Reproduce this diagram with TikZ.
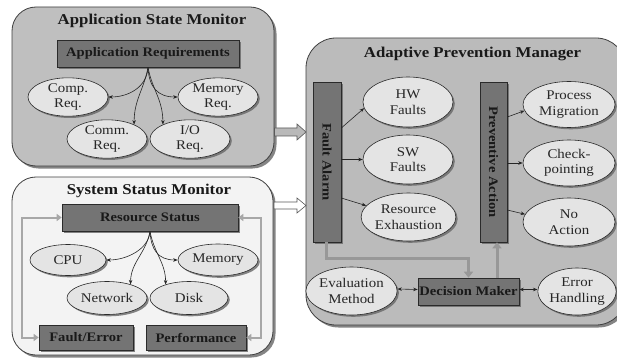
\documentclass[tikz,border=0pt]{standalone}
\usepackage{fontspec}
\setmainfont[FakeStretch=1.12]{Liberation Serif}
\usetikzlibrary{shapes.geometric,shadows,arrows.meta,calc}
\definecolor{panelA}{HTML}{BFBFBF}
\definecolor{panelS}{HTML}{F3F3F3}
\definecolor{panelP}{HTML}{BBBBBB}
\definecolor{darkfill}{HTML}{747474}
\definecolor{ovalfill}{HTML}{E4E4E4}
\definecolor{gline}{HTML}{989898}
\definecolor{edge}{HTML}{2A2A2A}
\tikzset{
  panel/.style={draw=edge!90, line width=0.8pt, rounded corners=24pt,
    drop shadow={shadow xshift=2.5pt, shadow yshift=-2.5pt, fill=black!60, opacity=0.8}},
  paneltitle/.style={font=\bfseries\fontsize{15}{17}\selectfont, inner sep=0pt, text=black!90},
  darkbox/.style={draw=edge, fill=darkfill, line width=0.6pt, inner sep=0pt,
    font=\bfseries\fontsize{13}{15}\selectfont, text=black!90,
    drop shadow={shadow xshift=1.8pt, shadow yshift=-1.8pt, fill=black!60, opacity=0.8}},
  oval/.style={ellipse, draw=edge, fill=ovalfill, line width=0.6pt, inner sep=0pt,
    align=center, font=\fontsize{13.3}{15.5}\selectfont, text=black!85,
    drop shadow={shadow xshift=1.8pt, shadow yshift=-1.8pt, fill=black!60, opacity=0.8}},
  arr/.style={-{Stealth[length=4.5pt,width=3.5pt]}, line width=0.6pt, draw=black!85},
  darr/.style={{Stealth[length=4.5pt,width=3.5pt]}-{Stealth[length=4.5pt,width=3.5pt]}, line width=0.6pt, draw=black!85},
  gthick/.style={draw=gline, line width=3pt, -{Triangle[length=6pt,width=9pt]}},
  gboth/.style={draw=gline!85, line width=2pt, {Triangle[length=5pt,width=7pt]}-{Triangle[length=5pt,width=7pt]}},
  blockarrow/.style={draw=black!65, line width=0.6pt},
}
\begin{document}
\begin{tikzpicture}[x=1pt,y=-1pt]
\clip (0,0) rectangle (617,358);
\fill[white] (0,0) rectangle (617,358);

% ---------- Application State Monitor ----------
\node[panel, fill=panelA, minimum width=262pt, minimum height=159pt] (asm) at (143,86.5) {};
\node[paneltitle] (asmt) at (152,21) {Application State Monitor};
\node[darkbox, minimum width=182pt, minimum height=27pt] (ar) at (148,53.5) {Application Requirements};
\node[oval, minimum width=80pt, minimum height=37pt] (comp) at (68,97) {Comp.\\Req.};
\node[oval, minimum width=80pt, minimum height=37pt] (memr) at (218,97) {Memory\\Req.};
\node[oval, minimum width=80pt, minimum height=35pt] (comm) at (107,139) {Comm.\\Req.};
\node[oval, minimum width=80pt, minimum height=35pt] (io) at (190,139) {I/O\\Req.};
\draw[arr] (ar.south) .. controls +(-1,20) and +(20,0) .. (comp.east);
\draw[arr] (ar.south) .. controls +(1,20) and +(-20,0) .. (memr.west);
\draw[arr] (ar.south) .. controls +(-4,22) and +(0,-25) .. (comm.28);
\draw[arr] (ar.south) .. controls +(4,22) and +(0,-25) .. (io.152);

% ---------- System Status Monitor ----------
\node[panel, fill=panelS, minimum width=261pt, minimum height=178pt] (ssm) at (142.5,266) {};
\node[paneltitle] (ssmt) at (149,191) {System Status Monitor};
\node[darkbox, minimum width=176pt, minimum height=27pt] (rs) at (150,217.5) {Resource Status};
\node[oval, minimum width=76pt, minimum height=31pt] (cpu) at (68,260) {CPU};
\node[oval, minimum width=80pt, minimum height=32pt] (mems) at (218,260) {Memory};
\node[oval, minimum width=80pt, minimum height=33pt] (net) at (107,298) {Network};
\node[oval, minimum width=78pt, minimum height=33pt] (disk) at (189,298) {Disk};
\node[darkbox, minimum width=94pt, minimum height=25pt] (fe) at (86,337.5) {Fault/Error};
\node[darkbox, minimum width=100pt, minimum height=25pt] (pf) at (196,337.5) {Performance};
\draw[arr] (rs.south) .. controls +(-1,18) and +(20,0) .. (cpu.east);
\draw[arr] (rs.south) .. controls +(1,18) and +(-20,0) .. (mems.west);
\draw[arr] (rs.south) .. controls +(-4,22) and +(0,-22) .. (net.30);
\draw[arr] (rs.south) .. controls +(4,22) and +(0,-22) .. (disk.150);
\draw[gboth] (rs.west) -- ++(-40,0) |- (fe.west);
\draw[gboth] (rs.east) -- ++(23,0) |- (pf.east);

% ---------- Adaptive Prevention Manager ----------
\node[panel, fill=panelP, rounded corners=30pt, minimum width=320pt, minimum height=287pt] (apm) at (466,181.5) {};
\node[paneltitle] (apmt) at (472.5,54) {Adaptive Prevention Manager};
\node[darkbox, minimum width=28pt, minimum height=160pt] (fa) at (327,162) {\rotatebox{-90}{Fault Alarm}};
\node[darkbox, minimum width=27pt, minimum height=160pt] (pa) at (493.5,162) {\rotatebox{-90}{Preventive Action}};
\node[oval, minimum width=90pt, minimum height=50pt] (hw) at (408,102) {HW\\Faults};
\node[oval, minimum width=90pt, minimum height=49pt] (sw) at (408,159.5) {SW\\Faults};
\node[oval, minimum width=84pt, minimum height=48pt] (re) at (408.5,217) {Resource\\Exhaustion};
\node[oval, minimum width=92pt, minimum height=46pt] (pm) at (569,104.5) {Process\\Migration};
\node[oval, minimum width=92pt, minimum height=46pt] (cp) at (569,163) {Check-\\pointing};
\node[oval, minimum width=92pt, minimum height=48pt] (na) at (569,222) {No\\Action};
\node[oval, minimum width=79pt, minimum height=48pt] (em) at (351.5,291) {Evaluation\\Method};
\node[darkbox, minimum width=101pt, minimum height=27pt] (dm) at (468.5,291.5) {Decision Maker};
\node[oval, minimum width=76pt, minimum height=47pt] (eh) at (577,291.5) {Error\\Handling};

\draw[arr] ([yshift=34pt]fa.east) -- (hw.188);
\draw[arr] (fa.east |- sw.west) -- (sw.west);
\draw[arr] ([yshift=-36pt]fa.east) -- (re.165);
\draw[arr] ([yshift=45pt]pa.east) -- (pm.188);
\draw[arr] (pa.east |- cp.west) -- (cp.west);
\draw[arr] ([yshift=-48pt]pa.east) -- (na.170);
\draw[darr] ([yshift=2pt]em.east) -- ([yshift=2pt]dm.west);
\draw[darr] ([yshift=2pt]dm.east) -- ([yshift=2pt]eh.west);
\draw[gthick] ([xshift=-1pt]fa.south) -- ++(0,16) -| (dm.north);
\draw[gthick] ([xshift=28.5pt]dm.north) -- ([xshift=3.5pt]pa.south);

% ---------- block arrows ----------
\draw[blockarrow, fill=gray!55] (274.5,128) -- (297,128) -- (297,124) -- (306,132) -- (297,140) -- (297,136) -- (274.5,136) -- cycle;
\draw[blockarrow, fill=white] (274,202) -- (297,202) -- (297,198) -- (306,205.5) -- (297,213) -- (297,209) -- (274,209) -- cycle;
\end{tikzpicture}
\end{document}
